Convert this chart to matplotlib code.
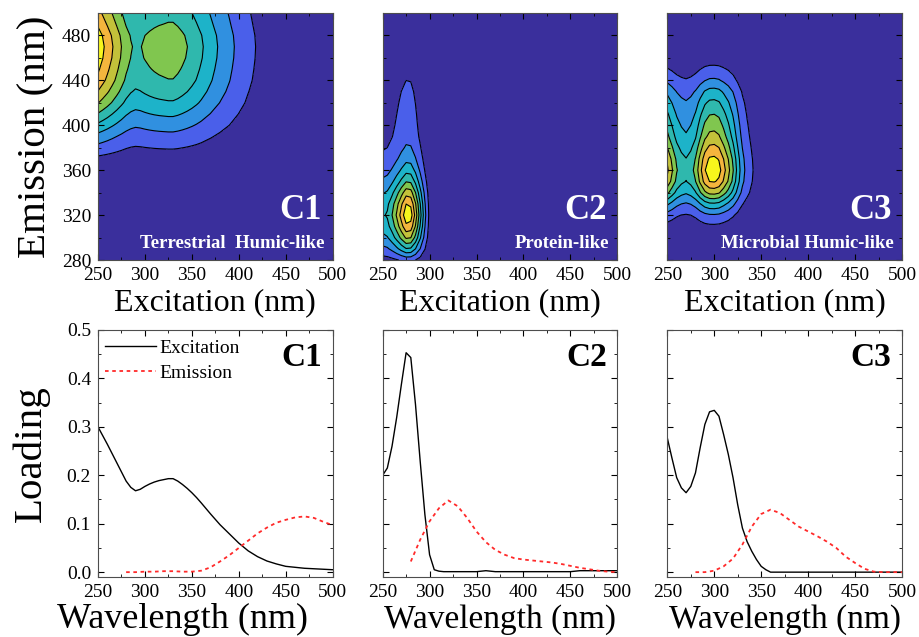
import matplotlib
matplotlib.use('Agg')
import matplotlib.pyplot as plt
import numpy as np
from matplotlib.colors import ListedColormap
from matplotlib.ticker import MultipleLocator, FormatStrFormatter

plt.rcParams['font.family'] = ['Liberation Serif', 'DejaVu Serif']

# wavelengths (nm)
ex_wl = [250, 255, 260, 265, 270, 275, 280, 285, 290, 295, 300, 305, 310, 315, 320,
         325, 330, 335, 340, 345, 350, 355, 360, 370, 380, 390, 400, 410, 420, 430,
         440, 450, 460, 470, 480, 490, 500]
em_wl = [280, 290, 300, 310, 320, 330, 340, 350, 360, 370, 380, 390, 400, 410, 420,
         430, 440, 450, 460, 470, 480, 490, 500]

# excitation loadings
c1_ex = [0.300, 0.282, 0.264, 0.245, 0.226, 0.207, 0.188, 0.175, 0.168, 0.171, 0.177,
         0.182, 0.186, 0.189, 0.191, 0.193, 0.193, 0.188, 0.181, 0.173, 0.164, 0.154,
         0.143, 0.120, 0.098, 0.079, 0.060, 0.044, 0.032, 0.023, 0.017, 0.012, 0.010,
         0.008, 0.007, 0.006, 0.005]
c2_ex = [0.200, 0.215, 0.260, 0.320, 0.388, 0.453, 0.443, 0.346, 0.229, 0.119, 0.036,
         0.005, 0.002, 0.001, 0.001, 0.001, 0.001, 0.001, 0.001, 0.001, 0.001, 0.002,
         0.003, 0.001, 0.001, 0.001, 0.001, 0.001, 0.001, 0.001, 0.001, 0.001, 0.003,
         0.003, 0.003, 0.003, 0.003]
c3_ex = [0.277, 0.235, 0.195, 0.174, 0.164, 0.177, 0.205, 0.257, 0.305, 0.331, 0.334,
         0.322, 0.284, 0.243, 0.195, 0.139, 0.091, 0.063, 0.043, 0.026, 0.012, 0.005,
         0.000, 0.000, 0.000, 0.000, 0.000, 0.000, 0.000, 0.000, 0.000, 0.000, 0.000,
         0.000, 0.000, 0.000, 0.000]

# emission loadings
c1_em = [0.000, 0.000, 0.001, 0.001, 0.002, 0.002, 0.001, 0.001, 0.003, 0.010, 0.022,
         0.035, 0.050, 0.065, 0.080, 0.092, 0.102, 0.108, 0.113, 0.115, 0.112, 0.104,
         0.097]
c2_em = [0.022, 0.067, 0.105, 0.132, 0.148, 0.136, 0.112, 0.084, 0.062, 0.046, 0.036,
         0.029, 0.026, 0.024, 0.022, 0.020, 0.017, 0.013, 0.009, 0.006, 0.003, 0.001,
         0.000]
c3_em = [0.000, 0.000, 0.003, 0.012, 0.028, 0.057, 0.094, 0.120, 0.129, 0.122, 0.108,
         0.094, 0.084, 0.074, 0.063, 0.050, 0.032, 0.019, 0.007, 0.001, 0.000, 0.000,
         0.000]

names = ['C1', 'C2', 'C3']
types = ['Terrestrial  Humic-like', 'Protein-like', 'Microbial Humic-like']
ex_all = [c1_ex, c2_ex, c3_ex]
em_all = [c1_em, c2_em, c3_em]

# parula-like band colours
cmap = ListedColormap(['#3a2f9c', '#4a5fea', '#3090e0', '#1db3c9', '#2fb8ad',
                       '#80c64f', '#c3c13a', '#f4b53d', '#f7f61c'])

fig, axes = plt.subplots(2, 3, figsize=(9.19, 6.37), dpi=100)
plt.subplots_adjust(left=0.1066, right=0.9815, top=0.9796, bottom=0.0942,
                    wspace=0.213, hspace=0.283)

wl_size = [26, 24, 24]
wl_pos = [0.36, 0.5, 0.5]

for i in range(3):
    # EEM contour = outer product of the loadings
    ax = axes[0, i]
    z = np.outer(em_all[i], ex_all[i])
    levels = np.arange(10) * 0.115 * z.max()
    ax.contourf(ex_wl, em_wl, z, levels=levels, cmap=cmap)
    ax.contour(ex_wl, em_wl, z, levels=levels[1:-1], colors='k', linewidths=0.8)
    ax.set_xlim(250, 500)
    ax.set_ylim(280, 500)
    ax.xaxis.set_major_locator(MultipleLocator(50))
    ax.xaxis.set_minor_locator(MultipleLocator(25))
    ax.yaxis.set_major_locator(MultipleLocator(40))
    ax.yaxis.set_minor_locator(MultipleLocator(20))
    ax.set_xlabel('Excitation (nm)', fontsize=23, labelpad=3)
    ax.text(0.955, 0.20, names[i], transform=ax.transAxes, color='white',
            fontsize=25, fontweight='bold', ha='right', va='center')
    ax.text(0.965, 0.065, types[i], transform=ax.transAxes, color='white',
            fontsize=13.5, fontweight='bold', ha='right', va='center')

    # loadings
    ax2 = axes[1, i]
    ax2.plot(ex_wl, ex_all[i], color='k', lw=1.0, label='Excitation')
    ax2.plot(em_wl, em_all[i], color='#ff2a2a', lw=1.3, linestyle=(0, (2, 2)),
             label='Emission')
    ax2.set_xlim(250, 500)
    ax2.set_ylim(-0.01, 0.5)
    ax2.xaxis.set_major_locator(MultipleLocator(50))
    ax2.xaxis.set_minor_locator(MultipleLocator(25))
    ax2.yaxis.set_major_locator(MultipleLocator(0.1))
    ax2.yaxis.set_minor_locator(MultipleLocator(0.05))
    ax2.yaxis.set_major_formatter(FormatStrFormatter('%.1f'))
    ax2.set_xlabel('Wavelength (nm)', fontsize=wl_size[i], va='baseline')
    ax2.xaxis.set_label_coords(wl_pos[i], -0.205)
    ax2.text(0.955, 0.89, names[i], transform=ax2.transAxes, color='k',
             fontsize=24, fontweight='bold', ha='right', va='center')

    for a in (ax, ax2):
        a.tick_params(which='both', direction='in', top=True, right=True, labelsize=14)
        a.tick_params(which='major', length=4, width=0.8, pad=5)
        a.tick_params(which='minor', length=2, width=0.6)
        for s in a.spines.values():
            s.set_color('0.3')
            s.set_linewidth(0.8)
    if i > 0:
        ax.set_yticklabels([])
        ax2.set_yticklabels([])

axes[0, 0].set_ylabel('Emission (nm)', fontsize=29.5, labelpad=5)
axes[1, 0].set_ylabel('Loading', fontsize=29.5, labelpad=12)
axes[1, 0].legend(loc='upper left', frameon=False, fontsize=14, handlelength=2.6,
                  handletextpad=0.2, borderaxespad=0.1, labelspacing=0.35,
                  bbox_to_anchor=(-0.01, 1.0))

plt.savefig('out.png', dpi=100)
